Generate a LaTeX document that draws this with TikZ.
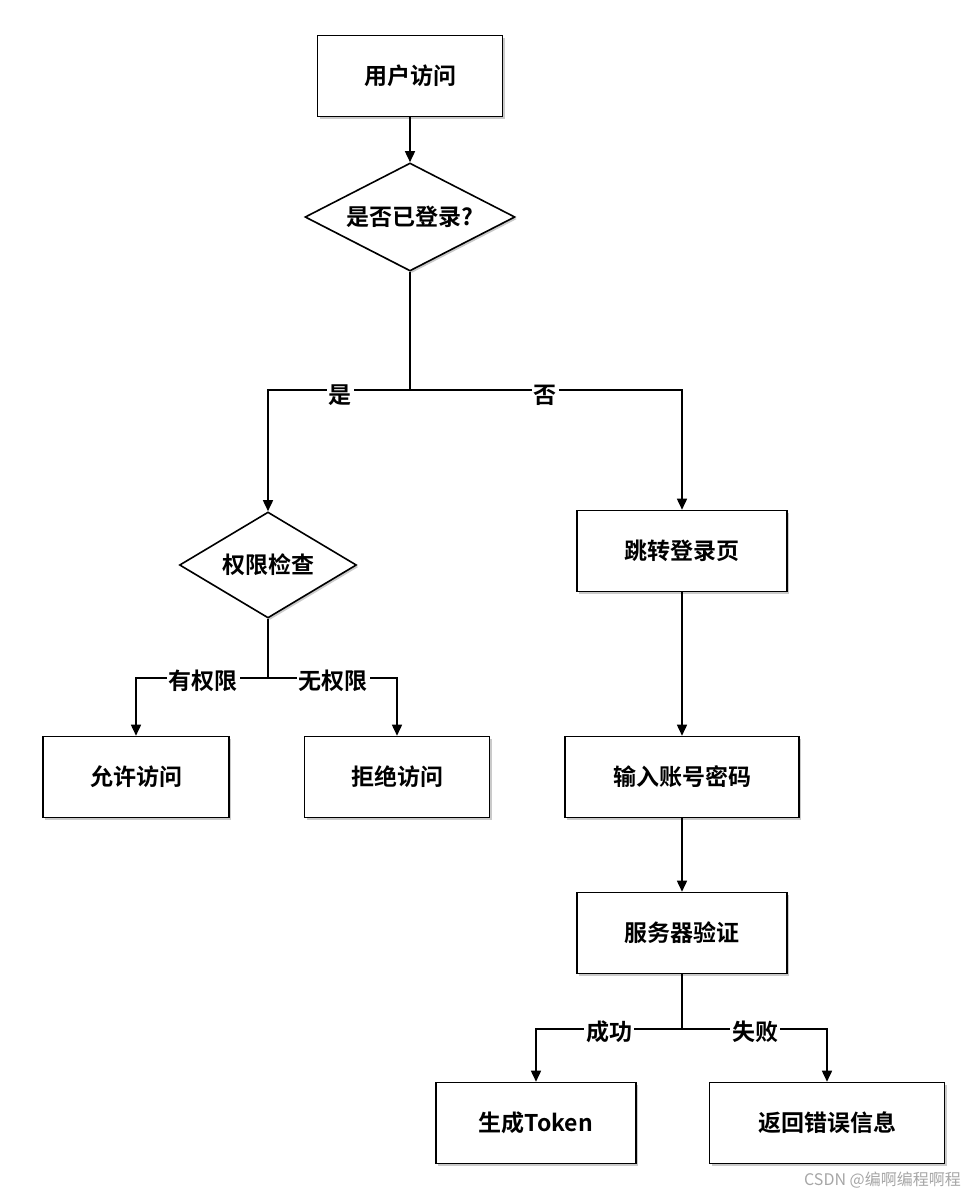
\documentclass[tikz,border=0pt]{standalone}
\usepackage{fontspec}
\setmainfont{Noto Sans CJK SC}[BoldFont={Noto Sans CJK SC Bold}]
\usetikzlibrary{shapes.geometric,arrows.meta,shadows}
\begin{document}
\begin{tikzpicture}[x=1pt,y=-1pt,
  every node/.style={font=\fontsize{23}{26}\selectfont\bfseries},
  box/.style={draw,line width=1.6pt,fill=white,minimum height=81pt,drop shadow={shadow xshift=2pt,shadow yshift=-2pt,fill=black!35,opacity=0.6}},
  dia/.style={draw,diamond,aspect=1.9,line width=1.6pt,fill=white,inner sep=0pt,drop shadow={shadow xshift=2pt,shadow yshift=-2pt,fill=black!35,opacity=0.6}},
  con/.style={line width=1.6pt,-{Triangle[length=11pt,width=10pt]}},
  lab/.style={fill=white,inner sep=2pt}]
\useasboundingbox (0,0) rectangle (965,1194);
\node[box,minimum width=185pt] (a) at (410,76) {用户访问};
\node[dia,minimum width=210pt,minimum height=108pt] (b) at (410,217) {是否已登录?};
\node[dia,minimum width=177pt,minimum height=106pt] (c) at (268,565) {权限检查};
\node[box,minimum width=210pt] (d) at (682,551) {跳转登录页};
\node[box,minimum width=186pt] (e) at (136,777) {允许访问};
\node[box,minimum width=185pt] (f) at (397,777) {拒绝访问};
\node[box,minimum width=234pt] (g) at (682,777) {输入账号密码};
\node[box,minimum width=210pt] (h) at (682,933) {服务器验证};
\node[box,minimum width=200pt] (i) at (536,1123) {生成Token};
\node[box,minimum width=235pt] (j) at (827,1123) {返回错误信息};
\coordinate (bj) at (410,390);
\coordinate (cj) at (268,678);
\coordinate (hj) at (682,1029);
\draw[con] (a) -- (b);
\draw[line width=1.6pt] (b.south) -- (bj);
\draw[con] (bj) -| (c.north);
\draw[con] (bj) -| (d.north);
\node[lab] at (340,395) {是};
\node[lab] at (545,395) {否};
\draw[line width=1.6pt] (c.south) -- (cj);
\draw[con] (cj) -| (e.north);
\draw[con] (cj) -| (f.north);
\node[lab] at (203,681) {有权限};
\node[lab] at (333,681) {无权限};
\draw[con] (d) -- (g);
\draw[con] (g) -- (h);
\draw[line width=1.6pt] (h.south) -- (hj);
\draw[con] (hj) -| (i.north);
\draw[con] (hj) -| (j.north);
\node[lab] at (609,1032) {成功};
\node[lab] at (755,1032) {失败};
\node[font=\fontsize{16}{18}\selectfont,text=black!35,anchor=south east,inner sep=2pt] (w) at (963,1190) {CSDN @编啊编程啊程};
\end{tikzpicture}
\end{document}
